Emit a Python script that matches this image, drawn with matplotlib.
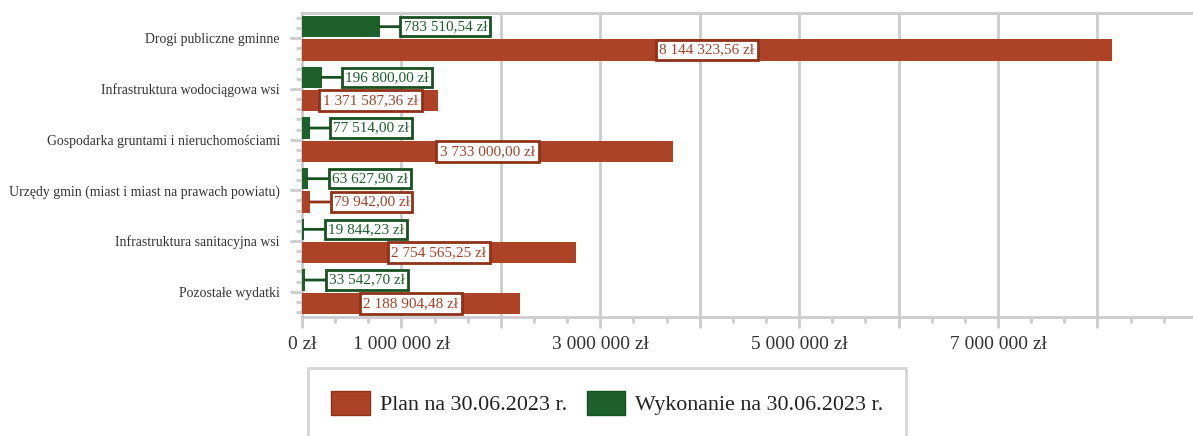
import matplotlib
matplotlib.use("Agg")
import matplotlib.pyplot as plt
from matplotlib.patches import Patch
from matplotlib.ticker import MultipleLocator, FixedLocator, FixedFormatter

plt.rcParams['font.family'] = ['Liberation Serif', 'DejaVu Serif']

categories = [
    "Drogi publiczne gminne",
    "Infrastruktura wodociągowa wsi",
    "Gospodarka gruntami i nieruchomościami",
    "Urzędy gmin (miast i miast na prawach powiatu)",
    "Infrastruktura sanitacyjna wsi",
    "Pozostałe wydatki",
]
plan = [8144323.56, 1371587.36, 3733000.00, 79942.00, 2754565.25, 2188904.48]
wykonanie = [783510.54, 196800.00, 77514.00, 63627.90, 19844.23, 33542.70]
series_names = ["Plan na 30.06.2023 r.", "Wykonanie na 30.06.2023 r."]
x_tick_values = [0, 1e6, 2e6, 3e6, 4e6, 5e6, 6e6, 7e6, 8e6]
x_tick_labels = ["0 zł", "1 000 000 zł", "", "3 000 000 zł", "", "5 000 000 zł", "", "7 000 000 zł", ""]

RED = "#ad4326"
RED_EDGE = "#8f3219"
RED_TEXT = "#a3432b"
GREEN = "#1e602b"
GREEN_EDGE = "#185022"
GRID = "#cccccc"
TEXT = "#333333"


def fmt_pln(v):
    s = f"{v:,.2f}".replace(",", " ").replace(".", ",")
    return s + " zł"


W, H = 1193, 436
fig = plt.figure(figsize=(W / 100, H / 100), dpi=100)
ax = fig.add_axes([302 / W, 1 - 317 / H, (W - 302) / W, 304 / H])

n = len(categories)
ys = list(range(n))
bar_h = 0.42
off = 0.23

ax.barh([y + off for y in ys], plan, height=bar_h, color=RED, zorder=3)
ax.barh([y - off for y in ys], wykonanie, height=bar_h, color=GREEN, zorder=3)

ax.set_xlim(0, 8.961e6)
ax.set_ylim(n - 0.5, -0.5)

# axes styling
for side in ("left", "bottom", "top"):
    ax.spines[side].set_color(GRID)
    ax.spines[side].set_linewidth(2)
ax.spines["right"].set_visible(False)

ax.xaxis.set_major_locator(FixedLocator(x_tick_values))
ax.xaxis.set_major_formatter(FixedFormatter(x_tick_labels))
ax.xaxis.set_minor_locator(MultipleLocator(1e6 / 3))
ax.grid(axis="x", which="major", color=GRID, linewidth=2, zorder=0)
ax.set_axisbelow(True)

ax.set_yticks(ys)
ax.set_yticklabels(categories)
ax.yaxis.set_minor_locator(MultipleLocator(0.2))

ax.tick_params(axis="x", which="major", length=8, width=2, color=GRID,
               labelsize=14, labelcolor=TEXT, pad=6)
ax.tick_params(axis="x", which="minor", length=4, width=2, color=GRID)
ax.tick_params(axis="y", which="major", length=9, width=2, color=GRID,
               labelsize=9.9, labelcolor=TEXT, pad=7)
ax.tick_params(axis="y", which="minor", length=4, width=2, color=GRID)


def outside_label(v, y, color, edge):
    ax.annotate(fmt_pln(v), xy=(v, y), xytext=(17, 0),
                textcoords="offset points", ha="left", va="center",
                fontsize=11, color=color, zorder=5,
                bbox=dict(boxstyle="square,pad=0.2", fc="white", ec=edge, lw=2),
                arrowprops=dict(arrowstyle="-", color=edge, lw=2,
                                shrinkA=0, shrinkB=0))


# executed amounts: label to the right of the bar end
for y, v in zip(ys, wykonanie):
    outside_label(v, y - off, GREEN, GREEN_EDGE)

# planned amounts: centred inside the bar, or outside when the bar is too short
fig.canvas.draw()
renderer = fig.canvas.get_renderer()
for y, v in zip(ys, plan):
    t = ax.text(v / 2, y + off, fmt_pln(v), ha="center", va="center",
                fontsize=11, color=RED_TEXT, zorder=5,
                bbox=dict(boxstyle="square,pad=0.25", fc="white", ec=RED_EDGE, lw=2))
    fig.canvas.draw()
    bb = t.get_bbox_patch().get_window_extent(renderer)
    x0 = ax.transData.transform((0, 0))[0]
    x1 = ax.transData.transform((v, 0))[0]
    if bb.width > (x1 - x0):
        t.remove()
        outside_label(v, y + off, RED_TEXT, RED_EDGE)

handles = [Patch(facecolor=RED, edgecolor=RED_EDGE, lw=1),
           Patch(facecolor=GREEN, edgecolor=GREEN_EDGE, lw=1)]
leg = fig.legend(handles, series_names, loc="upper left",
                 bbox_to_anchor=(308 / W, 1 - 368 / H), ncol=2,
                 fontsize=15.8, frameon=True, fancybox=False,
                 handlelength=1.76, handleheight=1.3, handletextpad=0.45,
                 columnspacing=0.9, borderpad=1.05, borderaxespad=0)
leg.get_frame().set_edgecolor(GRID)
leg.get_frame().set_linewidth(2)
for txt in leg.get_texts():
    txt.set_color("#222222")

fig.savefig("out.png", dpi=100)
